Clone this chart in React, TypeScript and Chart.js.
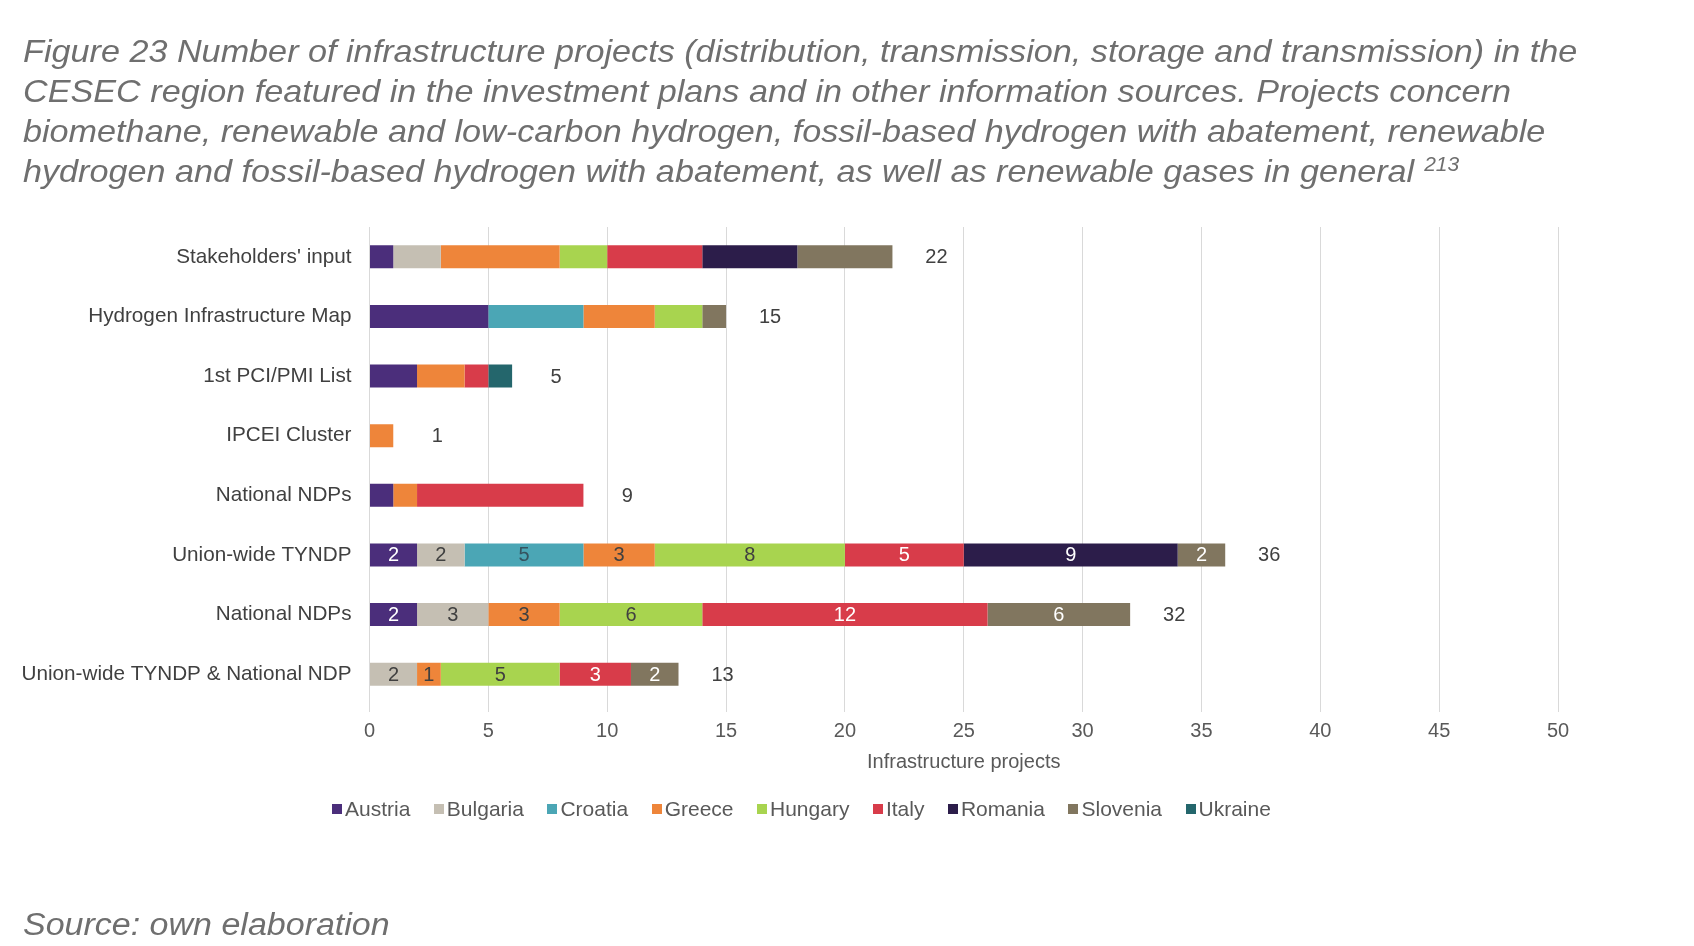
import { useEffect, useRef } from "react";
import { Chart, registerables } from "chart.js";

Chart.register(...registerables);

// Rows of the chart (top to bottom)
const categories = [
  "Stakeholders' input",
  "Hydrogen Infrastructure Map",
  "1st PCI/PMI List",
  "IPCEI Cluster",
  "National NDPs",
  "Union-wide TYNDP",
  "National NDPs",
  "Union-wide TYNDP & National NDP",
];

// Projects per country for each row
const austria = [1, 5, 2, 0, 1, 2, 2, 0];
const bulgaria = [2, 0, 0, 0, 0, 2, 3, 2];
const croatia = [0, 4, 0, 0, 0, 5, 0, 0];
const greece = [5, 3, 2, 1, 1, 3, 3, 1];
const hungary = [2, 2, 0, 0, 0, 8, 6, 5];
const italy = [4, 0, 1, 0, 7, 5, 12, 3];
const romania = [4, 0, 0, 0, 0, 9, 0, 0];
const slovenia = [4, 1, 0, 0, 0, 2, 6, 2];
const ukraine = [0, 0, 1, 0, 0, 0, 0, 0];

// Totals as printed next to each bar
const reportedTotals = [22, 15, 5, 1, 9, 36, 32, 13];

// Rows whose segments carry their own value labels
const labelledRows = [5, 6, 7];

const xMin = 0;
const xMax = 50;
const xStep = 5;

const titleLines = [
  "Figure 23 Number of infrastructure projects (distribution, transmission, storage and transmission) in the",
  "CESEC region featured in the investment plans and in other information sources. Projects concern",
  "biomethane, renewable and low-carbon hydrogen, fossil-based hydrogen with abatement, renewable",
  "hydrogen and fossil-based hydrogen with abatement, as well as renewable gases in general",
];
const titleNote = "213";
const sourceText = "Source: own elaboration";

const series = [
  { label: "Austria", data: austria, color: "#4b2e7b", text: "#ffffff" },
  { label: "Bulgaria", data: bulgaria, color: "#c5bfb3", text: "#404040" },
  { label: "Croatia", data: croatia, color: "#4ba6b5", text: "#35525e" },
  { label: "Greece", data: greece, color: "#ee853a", text: "#404040" },
  { label: "Hungary", data: hungary, color: "#a8d44f", text: "#404040" },
  { label: "Italy", data: italy, color: "#d83c4a", text: "#ffffff" },
  { label: "Romania", data: romania, color: "#2c1d4a", text: "#ffffff" },
  { label: "Slovenia", data: slovenia, color: "#81765f", text: "#ffffff" },
  { label: "Ukraine", data: ukraine, color: "#24666c", text: "#ffffff" },
];

const FONT = '"Liberation Sans", Arial, sans-serif';

const barLabels = {
  id: "barLabels",
  afterDatasetsDraw(chart: any) {
    const ctx = chart.ctx;
    const xScale = chart.scales.x;
    ctx.save();
    ctx.font = `20px ${FONT}`;
    ctx.textAlign = "center";
    ctx.textBaseline = "middle";
    chart.data.datasets.forEach((ds: any, i: number) => {
      const meta = chart.getDatasetMeta(i);
      labelledRows.forEach((r) => {
        const v = ds.data[r];
        if (!v) return;
        const bar: any = meta.data[r];
        const p = bar.getProps(["x", "y", "base"], true);
        ctx.fillStyle = series[i].text;
        ctx.fillText(String(v), (p.x + p.base) / 2, p.y + 1);
      });
    });
    // totals to the right of each bar
    const meta0 = chart.getDatasetMeta(0);
    categories.forEach((_, r) => {
      const sum = series.reduce((acc, s) => acc + s.data[r], 0);
      const end = xScale.getPixelForValue(sum);
      const y = (meta0.data[r] as any).getProps(["y"], true).y;
      ctx.fillStyle = "#404040";
      ctx.fillText(String(reportedTotals[r]), end + 44, y + 1);
    });
    ctx.restore();
  },
};

export default function App() {
  const canvasRef = useRef<HTMLCanvasElement | null>(null);

  useEffect(() => {
    if (!canvasRef.current) return;
    const chart = new Chart(canvasRef.current, {
      type: "bar",
      data: {
        labels: categories,
        datasets: series.map((s) => ({
          label: s.label,
          data: s.data,
          backgroundColor: s.color,
          borderWidth: 0,
          categoryPercentage: 1,
          barPercentage: 0.385,
        })),
      },
      options: {
        indexAxis: "y",
        responsive: false,
        animation: false,
        layout: { padding: { left: 0, right: 136, top: 227, bottom: 172 } },
        plugins: {
          legend: { display: false },
          tooltip: { enabled: false },
        },
        scales: {
          x: {
            stacked: true,
            min: xMin,
            max: xMax,
            ticks: {
              stepSize: xStep,
              color: "#595959",
              font: { family: FONT, size: 20 },
              padding: 7,
            },
            grid: { color: "#d9d9d9", lineWidth: 1, drawTicks: true, tickLength: 8 },
            border: { display: false },
            title: {
              display: true,
              text: "Infrastructure projects",
              color: "#595959",
              font: { family: FONT, size: 20 },
              padding: { top: 0, bottom: 0 },
            },
            afterFit(scale: any) {
              scale.height = 70;
            },
          },
          y: {
            stacked: true,
            ticks: {
              color: "#404040",
              font: { family: FONT, size: 20.7 },
              padding: 18,
            },
            grid: { display: false, drawTicks: false },
            border: { display: false },
            afterFit(scale: any) {
              scale.width = 369.5;
            },
          },
        },
      },
      plugins: [barLabels],
    });
    return () => chart.destroy();
  }, []);

  return (
    <div
      style={{
        position: "absolute",
        left: 0,
        top: 0,
        width: 1694,
        height: 946,
        background: "#ffffff",
        overflow: "hidden",
        fontFamily: FONT,
      }}
    >
      <canvas
        ref={canvasRef}
        width={1694}
        height={946}
        style={{ position: "absolute", left: 0, top: 0, width: 1694, height: 946 }}
      />
      <div
        style={{
          position: "absolute",
          left: 23,
          top: 31,
          color: "#6f6f6f",
          fontStyle: "italic",
          fontSize: 34.2,
          lineHeight: "43px",
          whiteSpace: "nowrap",
          transform: "scale(1, 0.93)",
          transformOrigin: "left top",
        }}
      >
        {titleLines.map((line, i) => (
          <div key={i} style={{ height: 43 }}>
            {line}
            {i === titleLines.length - 1 ? (
              <span
                style={{
                  fontSize: 21,
                  lineHeight: 0,
                  marginLeft: 10,
                  position: "relative",
                  top: -11,
                }}
              >
                {titleNote}
              </span>
            ) : null}
          </div>
        ))}
      </div>
      <div
        style={{
          position: "absolute",
          left: 332,
          top: 797,
          display: "flex",
          alignItems: "center",
          fontSize: 21,
          color: "#595959",
          whiteSpace: "nowrap",
        }}
      >
        {series.map((s) => (
          <div key={s.label} style={{ display: "flex", alignItems: "center", marginRight: 23.5 }}>
            <span style={{ display: "inline-block", width: 10, height: 10, background: s.color, marginRight: 3 }} />
            <span>{s.label}</span>
          </div>
        ))}
      </div>
      <div
        style={{
          position: "absolute",
          left: 23,
          top: 904,
          color: "#6f6f6f",
          fontStyle: "italic",
          fontSize: 34,
          lineHeight: "43px",
          whiteSpace: "nowrap",
          transform: "scale(1, 0.93)",
          transformOrigin: "left top",
        }}
      >
        {sourceText}
      </div>
    </div>
  );
}
